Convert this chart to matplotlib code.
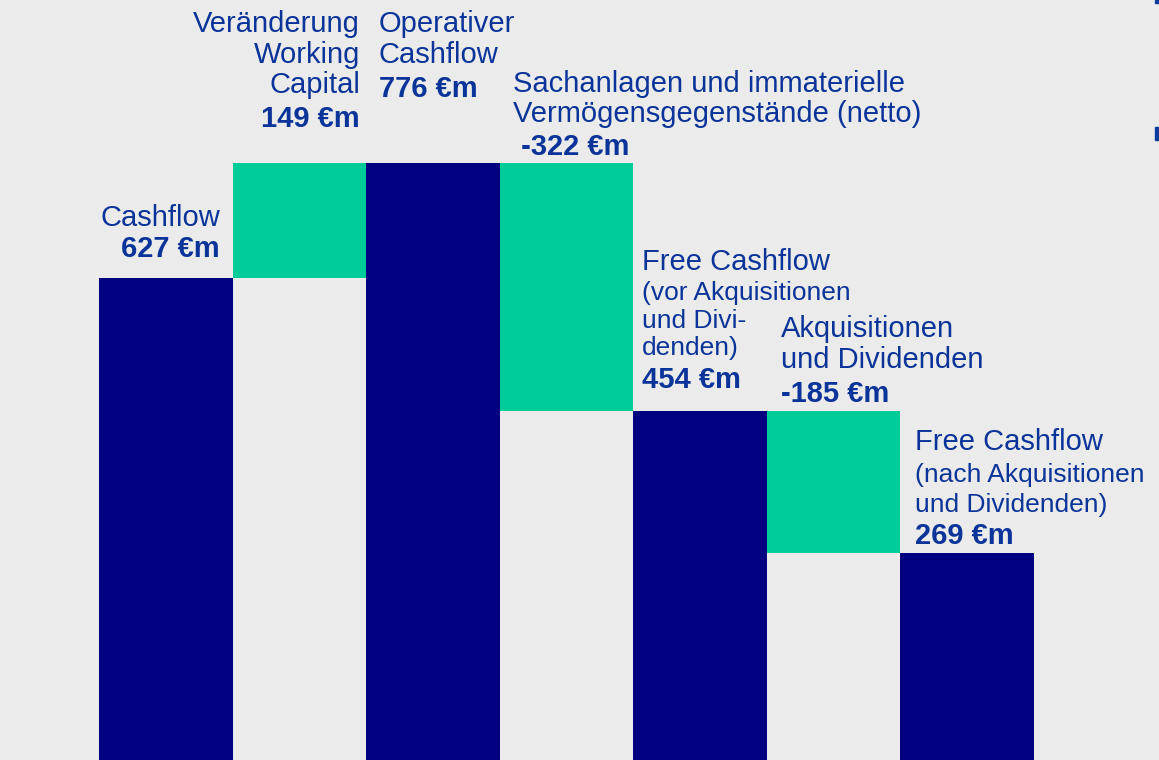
import matplotlib
matplotlib.use("Agg")
import matplotlib.pyplot as plt
from matplotlib.patches import Rectangle

# ---- data ----
categories = ["Cashflow", "Veränderung Working Capital", "Operativer Cashflow",
              "Sachanlagen und immaterielle Vermögensgegenstände (netto)",
              "Free Cashflow (vor Akquisitionen und Dividenden)",
              "Akquisitionen und Dividenden",
              "Free Cashflow (nach Akquisitionen und Dividenden)"]
values = [627, 149, 776, -322, 454, -185, 269]
is_total = [True, False, True, False, True, False, True]
value_labels = ["627 €m", "149 €m", "776 €m", " -322 €m", "454 €m", "-185 €m", "269 €m"]

# label text lines: (text, size-kind)
label_lines = [
    [("Cashflow", "L")],
    [("Veränderung", "L"), ("Working", "L"), ("Capital", "L")],
    [("Operativer", "L"), ("Cashflow", "L")],
    [("Sachanlagen und immaterielle", "L"), ("Vermögensgegenstände (netto)", "L")],
    [("Free Cashflow", "L"), ("(vor Akquisitionen", "S"), ("und Divi-", "S"), ("denden)", "S")],
    [("Akquisitionen", "L"), ("und Dividenden", "L")],
    [("Free Cashflow", "L"), ("(nach Akquisitionen", "S"), ("und Dividenden)", "S")],
]

# ---- style ----
BG = "#ebebeb"
NAVY = "#000080"
GREEN = "#00cc99"
TXT = "#0a3499"
W, H = 1159, 760
plt.rcParams['font.family'] = ['Liberation Sans', 'DejaVu Sans']

fig = plt.figure(figsize=(W / 100, H / 100), dpi=100, facecolor=BG)
ax = fig.add_axes([0, 0, 1, 1])
ax.set_facecolor(BG)
ax.set_axis_off()

# compute waterfall bottoms/heights
bottoms, heights = [], []
running = 0
for v, tot in zip(values, is_total):
    if tot:
        bottoms.append(0)
        heights.append(v)
        running = v
    else:
        if v >= 0:
            bottoms.append(running)
            heights.append(v)
        else:
            bottoms.append(running + v)
            heights.append(-v)
        running += v

xs = list(range(len(values)))
colors = [NAVY if t else GREEN for t in is_total]
ax.bar(xs, heights, bottom=bottoms, width=1.0, color=colors, linewidth=0)

bar_w_px = 133.6
ax.set_xlim(-0.5 - 99 / bar_w_px, 6.5 + (W - 1034) / bar_w_px)
ax.set_ylim(0, H / (482 / 627))

# ---- text placement (pixel layout) ----
def fx(px):
    return px / W

def fy(py):
    return 1 - py / H

SIZE = {"L": 21, "S": 19}
# (anchor x px, alignment, baselines of each line, baseline of value)
layout = [
    (220, "right", [226], 257),
    (360, "right", [32, 63, 93], 127),
    (379, "left", [32, 63], 97),
    (513, "left", [92, 122], 155),
    (642, "left", [270, 300, 328, 355], 388),
    (781, "left", [337, 368], 402),
    (915, "left", [450, 482, 512], 544),
]

for lines, (xp, ha, bls, vbl), vl in zip(label_lines, layout, value_labels):
    for (txt, kind), bl in zip(lines, bls):
        fig.text(fx(xp), fy(bl), txt, ha=ha, va="baseline",
                 fontsize=SIZE[kind], color=TXT)
    fig.text(fx(xp), fy(vbl), vl, ha=ha, va="baseline",
             fontsize=21, fontweight="bold", color=TXT)

# small marks at top-right edge
fig.patches.append(Rectangle((fx(1155), fy(3)), fx(4), 3 / H,
                             transform=fig.transFigure, color="#0a3ca0"))
fig.patches.append(Rectangle((fx(1155), fy(140)), fx(4), 13 / H,
                             transform=fig.transFigure, color="#0a3ca0"))

fig.savefig("out.png", dpi=100, facecolor=BG)
